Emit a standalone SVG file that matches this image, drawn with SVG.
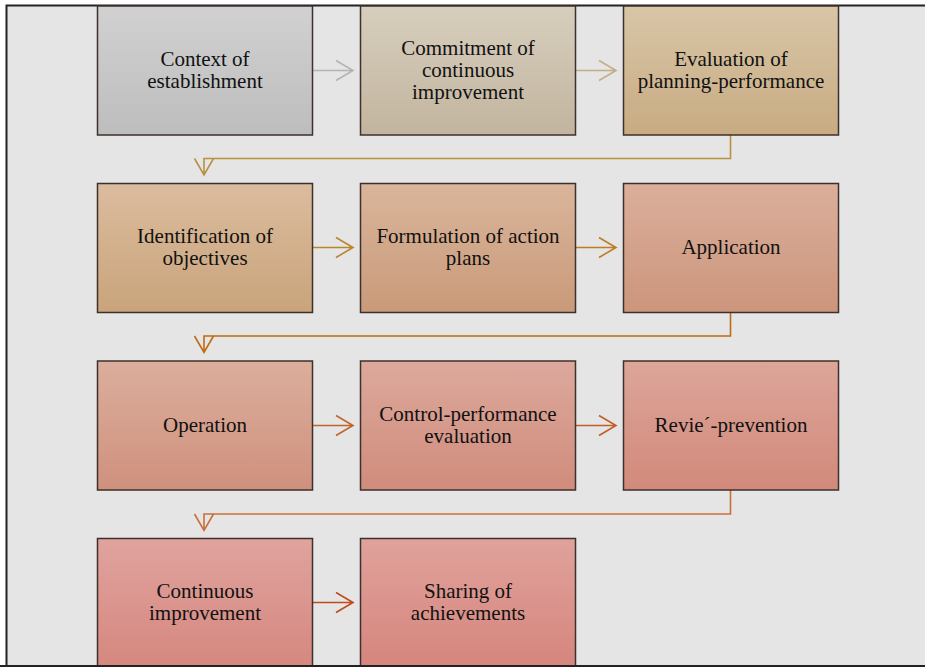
<svg xmlns="http://www.w3.org/2000/svg" width="925" height="667" viewBox="0 0 925 667">
<defs>
<linearGradient id="g11" x1="0" y1="0" x2="0" y2="1"><stop offset="0" stop-color="#d1d1d1"/><stop offset="1" stop-color="#bdbdbd"/></linearGradient>
<linearGradient id="g12" x1="0" y1="0" x2="0" y2="1"><stop offset="0" stop-color="#d7cebd"/><stop offset="1" stop-color="#c2b59f"/></linearGradient>
<linearGradient id="g13" x1="0" y1="0" x2="0" y2="1"><stop offset="0" stop-color="#d8c6a7"/><stop offset="1" stop-color="#c8ab82"/></linearGradient>
<linearGradient id="g21" x1="0" y1="0" x2="0" y2="1"><stop offset="0" stop-color="#dbbc9e"/><stop offset="1" stop-color="#c9a47b"/></linearGradient>
<linearGradient id="g22" x1="0" y1="0" x2="0" y2="1"><stop offset="0" stop-color="#dab59b"/><stop offset="1" stop-color="#c99a79"/></linearGradient>
<linearGradient id="g23" x1="0" y1="0" x2="0" y2="1"><stop offset="0" stop-color="#dbaf9b"/><stop offset="1" stop-color="#cc957c"/></linearGradient>
<linearGradient id="g31" x1="0" y1="0" x2="0" y2="1"><stop offset="0" stop-color="#dcae9c"/><stop offset="1" stop-color="#cf917e"/></linearGradient>
<linearGradient id="g32" x1="0" y1="0" x2="0" y2="1"><stop offset="0" stop-color="#dca99c"/><stop offset="1" stop-color="#d08c7c"/></linearGradient>
<linearGradient id="g33" x1="0" y1="0" x2="0" y2="1"><stop offset="0" stop-color="#dca699"/><stop offset="1" stop-color="#d2897b"/></linearGradient>
<linearGradient id="g41" x1="0" y1="0" x2="0" y2="1"><stop offset="0" stop-color="#e0a39e"/><stop offset="1" stop-color="#d4857c"/></linearGradient>
<linearGradient id="g42" x1="0" y1="0" x2="0" y2="1"><stop offset="0" stop-color="#e0a29c"/><stop offset="1" stop-color="#d4837a"/></linearGradient>
</defs>
<style>
.box{stroke:#3d312d;stroke-width:1.5}
.lbl{font-family:"Liberation Serif","Times New Roman",serif;font-size:21px;fill:#111;text-anchor:middle}
.c{fill:none;stroke-width:1.6;stroke-linejoin:miter}
</style>
<rect x="0" y="0" width="925" height="667" fill="#ffffff"/>
<rect x="6.5" y="5.5" width="930" height="660.5" fill="#e5e5e5" stroke="#222" stroke-width="2"/>

<g id="connectors">
<g stroke="#b4b4b4" class="c"><path class="c" d="M312,70.5 H353 M336,60.5 L353,70.5 L336,80.5"/></g>
<g stroke="#c3ac88" class="c"><path class="c" d="M575,70.5 H616 M599,60.5 L616,70.5 L599,80.5"/></g>
<path class="c" stroke="#b8913f" d="M730.5,135 V158.5 H204 V175 M194.5,158.5 L204,175 L213.5,158.5"/>
<path class="c" stroke="#b8862e" d="M312,247.5 H353 M336,237.5 L353,247.5 L336,257.5"/>
<path class="c" stroke="#bd7c26" d="M575,247.5 H616 M599,237.5 L616,247.5 L599,257.5"/>
<path class="c" stroke="#c06a14" d="M730.5,312 V336 H204 V352.5 M194.5,336 L204,352.5 L213.5,336"/>
<path class="c" stroke="#c0642a" d="M312,425.5 H353 M336,415.5 L353,425.5 L336,435.5"/>
<path class="c" stroke="#c05e26" d="M575,425.5 H616 M599,415.5 L616,425.5 L599,435.5"/>
<path class="c" stroke="#c8703c" d="M730.5,490 V514 H204 V530.5 M194.5,514 L204,530.5 L213.5,514"/>
<path class="c" stroke="#c04a1a" d="M312,602.5 H353 M336,592.5 L353,602.5 L336,612.5"/>
</g>

<g id="n1"><rect class="box" x="97.5" y="6" width="215" height="129" fill="url(#g11)"/>
<text class="lbl" x="205" y="66">Context of</text><text class="lbl" x="205" y="88">establishment</text></g>
<g id="n2"><rect class="box" x="360.5" y="6" width="215" height="129" fill="url(#g12)"/>
<text class="lbl" x="468" y="55">Commitment of</text><text class="lbl" x="468" y="77">continuous</text><text class="lbl" x="468" y="99">improvement</text></g>
<g id="n3"><rect class="box" x="623.5" y="6" width="215" height="129" fill="url(#g13)"/>
<text class="lbl" x="731" y="66">Evaluation of</text><text class="lbl" x="731" y="88">planning-performance</text></g>

<g id="n4"><rect class="box" x="97.5" y="183.5" width="215" height="129" fill="url(#g21)"/>
<text class="lbl" x="205" y="243">Identification of</text><text class="lbl" x="205" y="265">objectives</text></g>
<g id="n5"><rect class="box" x="360.5" y="183.5" width="215" height="129" fill="url(#g22)"/>
<text class="lbl" x="468" y="243">Formulation of action</text><text class="lbl" x="468" y="265">plans</text></g>
<g id="n6"><rect class="box" x="623.5" y="183.5" width="215" height="129" fill="url(#g23)"/>
<text class="lbl" x="731" y="254">Application</text></g>

<g id="n7"><rect class="box" x="97.5" y="361" width="215" height="129" fill="url(#g31)"/>
<text class="lbl" x="205" y="432">Operation</text></g>
<g id="n8"><rect class="box" x="360.5" y="361" width="215" height="129" fill="url(#g32)"/>
<text class="lbl" x="468" y="421">Control-performance</text><text class="lbl" x="468" y="443">evaluation</text></g>
<g id="n9"><rect class="box" x="623.5" y="361" width="215" height="129" fill="url(#g33)"/>
<text class="lbl" x="731" y="432">Revie´-prevention</text></g>

<g id="n10"><rect class="box" x="97.5" y="538.5" width="215" height="140" fill="url(#g41)"/>
<text class="lbl" x="205" y="598">Continuous</text><text class="lbl" x="205" y="620">improvement</text></g>
<g id="n11"><rect class="box" x="360.5" y="538.5" width="215" height="140" fill="url(#g42)"/>
<text class="lbl" x="468" y="598">Sharing of</text><text class="lbl" x="468" y="620">achievements</text></g>
<line x1="0" y1="666" x2="925" y2="666" stroke="#222" stroke-width="2"/>
</svg>
